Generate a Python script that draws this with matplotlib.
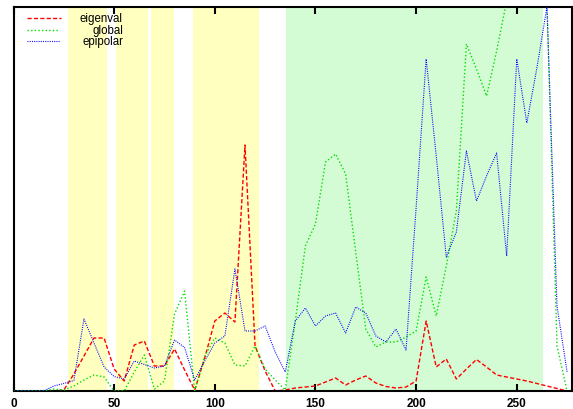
import numpy as np
import matplotlib
matplotlib.use("Agg")
import matplotlib.pyplot as plt

plt.rcParams["font.family"] = ["Liberation Sans", "DejaVu Sans"]

# sample positions (every 5 units)
x = np.arange(0, 280, 5)

eigenval = [0, 0, 0, 0, 0, 1, 17, 35, 53, 53,
            22, 10, 46, 50, 25, 25, 42, 21, 1, 33,
            70, 78, 69, 246, 45, 20, 0, 1, 3, 4,
            5, 9, 13, 6, 11, 15, 8, 4.5, 3, 4,
            10, 70, 24, 32, 12, 22, 31.5, 24, 16, 14,
            12, 10, 7.5, 5, 2.5, 0]

global_ = [0, 0, 0, 0, 2, 1, 5, 11, 16, 14,
           0, 0, 19, 36, 2, 10, 77, 100, 0, 35,
           53, 48, 26, 25, 45, 22, 11, 1, 70, 145,
           167, 229, 237, 217, 139, 62, 44, 49, 49, 54,
           60, 114, 75, 125, 180, 347, 322, 295, 340, 390,
           410, 420, 410, 390, 45, 0]

epipolar = [0, 0, 0, 0, 5, 7.5, 10.5, 72, 48, 24,
            14.5, 12, 30, 26.5, 23, 25, 51, 43.5, 11, 30,
            48, 55, 122, 60, 60, 65, 39, 19, 70, 83,
            65, 75, 78, 58, 84, 78, 55, 49, 62, 41,
            183, 332, 235, 134, 159, 240, 190, 215, 238, 135,
            332, 268, 323, 384, 85, 19]

# shaded intervals
yellow_spans = [(27.1, 46.6), (50.9, 66.7), (68.3, 79.6), (89.3, 122.0)]
green_spans = [(135.4, 262.9)]

# line styles: (colour, width, dash pattern)
styles = {
    "eigenval": ("#ff0000", 1.0, [3, 1.6]),
    "global": ("#00e000", 1.0, [1, 1.6]),
    "epipolar": ("#0000ff", 0.8, [0.9, 1.1]),
}

fig = plt.figure(figsize=(5.73, 4.10), dpi=100, facecolor="white")
ax = fig.add_axes([13.5 / 573, 18 / 410, 558.6 / 573, 384 / 410])

for a, b in yellow_spans:
    ax.axvspan(a, b, color="#ffffc0", lw=0, zorder=0)
for a, b in green_spans:
    ax.axvspan(a, b, color="#d4fcd4", lw=0, zorder=0)

for z, (name, y) in enumerate([("eigenval", eigenval), ("global", global_),
                               ("epipolar", epipolar)]):
    c, w, d = styles[name]
    ln, = ax.plot(x, y, color=c, lw=w, zorder=2 + z)
    ln.set_dashes(d)

ax.set_xlim(0, 277.5)
ax.set_ylim(0, 384)
ax.set_xticks(np.arange(0, 251, 50))
ax.set_yticks([])
ax.tick_params(axis="x", direction="in", length=5, width=1.5,
               top=True, labelsize=8.5, pad=4.5)
for lbl in ax.get_xticklabels():
    lbl.set_fontweight("bold")
for s in ax.spines.values():
    s.set_linewidth(1.5)

# key, gnuplot style
keys = [("eigenval", 0.971, 0.085, 0.119),
        ("global", 0.941, 0.080, 0.142),
        ("epipolar", 0.911, 0.083, 0.123)]
for name, yy, xend, xt in keys:
    c, w, d = styles[name]
    k, = ax.plot([0.024, xend], [yy, yy], transform=ax.transAxes,
                 color=c, lw=w, zorder=6)
    k.set_dashes(d)
    ax.text(xt, yy, name, transform=ax.transAxes, fontsize=8.3,
            ha="left", va="center", zorder=6)

fig.savefig("out.png", dpi=100)
